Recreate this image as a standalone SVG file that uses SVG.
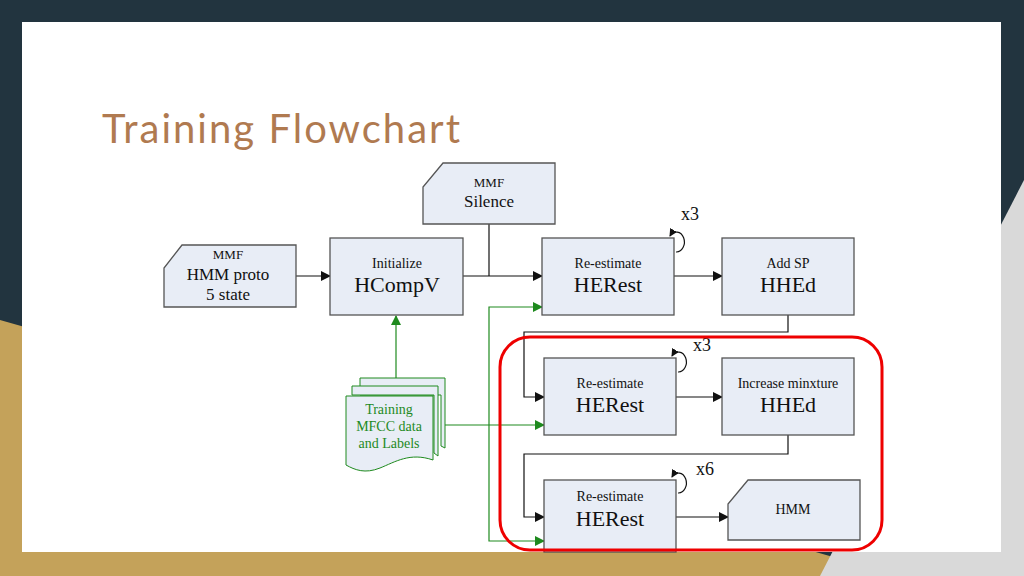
<svg xmlns="http://www.w3.org/2000/svg" width="1024" height="576" viewBox="0 0 1024 576">
<style>
.box{fill:#e8edf6;stroke:#555;stroke-width:1.3}
.t{font-family:"Liberation Serif",serif;fill:#111;text-anchor:middle}
.c{fill:none;stroke:#111;stroke-width:1.2}
.g{fill:none;stroke:#1e8a1e;stroke-width:1.2}
</style>
<defs>
<marker id="a" markerWidth="10" markerHeight="10" refX="9" refY="5" orient="auto" markerUnits="userSpaceOnUse"><path d="M0,0L10,5L0,10z" fill="#111"/></marker>
<marker id="ag" markerWidth="10" markerHeight="10" refX="9" refY="5" orient="auto" markerUnits="userSpaceOnUse"><path d="M0,0L10,5L0,10z" fill="#1e8a1e"/></marker>
<marker id="as" markerWidth="8" markerHeight="8" refX="7" refY="4" orient="auto" markerUnits="userSpaceOnUse"><path d="M0,0L8,4L0,8z" fill="#111"/></marker>
</defs>
<rect width="1024" height="576" fill="#22343f"/>
<path d="M0,320 L900,576 L0,576 Z" fill="#c4a25a"/>
<path d="M1024,180 L1024,576 L820,576 Z" fill="#d9d9d9"/>
<rect x="22" y="22" width="979" height="530" fill="#fff"/>
<text x="102" y="143" font-family="Lato,'Open Sans',sans-serif" font-size="40" fill="#b07a50" textLength="358">Training Flowchart</text>
<g id="connectors">
<path class="c" d="M296,276H330" marker-end="url(#a)"/>
<path class="c" d="M463,276H542" marker-end="url(#a)"/>
<path class="c" d="M489,224V276"/>
<path class="c" d="M674,276H722" marker-end="url(#a)"/>
<path class="c" d="M788,315V332H524V397H544" marker-end="url(#a)"/>
<path class="c" d="M676,397H722" marker-end="url(#a)"/>
<path class="c" d="M788,435V454H524V517H544" marker-end="url(#a)"/>
<path class="c" d="M676,517H728" marker-end="url(#a)"/>
<path class="g" d="M396,378V316" marker-end="url(#ag)"/>
<path class="g" d="M445,425H544" marker-end="url(#ag)"/>
<path class="g" d="M489,425V307H542" marker-end="url(#ag)"/>
<path class="g" d="M489,425V541H544" marker-end="url(#ag)"/>
<path class="c" d="M676,252 A8,10 0 1 0 670,236" marker-end="url(#as)"/>
<path class="c" d="M678,372 A8,10 0 1 0 672,356" marker-end="url(#as)"/>
<path class="c" d="M678,493 A8,10 0 1 0 672,477" marker-end="url(#as)"/>
</g>
<g id="proto"><path class="box" d="M182,245H296V307H164V268Z"/>
<text class="t" x="228" y="259" font-size="13">MMF</text>
<text class="t" x="228" y="280" font-size="17">HMM proto</text>
<text class="t" x="228" y="300" font-size="17">5 state</text></g>
<g id="hcompv"><rect class="box" x="330" y="238" width="133" height="77"/>
<text class="t" x="397" y="268" font-size="14">Initialize</text>
<text class="t" x="397" y="292" font-size="22">HCompV</text></g>
<g id="silence"><path class="box" d="M443,163H555V224H423V187Z"/>
<text class="t" x="489" y="187" font-size="13">MMF</text>
<text class="t" x="489" y="207" font-size="17">Silence</text></g>
<g id="herest1"><rect class="box" x="542" y="238" width="132" height="77"/>
<text class="t" x="608" y="268" font-size="14">Re-estimate</text>
<text class="t" x="608" y="292" font-size="22">HERest</text>
<text class="t" x="690" y="220" font-size="18">x3</text></g>
<g id="addsp"><rect class="box" x="722" y="238" width="132" height="77"/>
<text class="t" x="788" y="268" font-size="14">Add SP</text>
<text class="t" x="788" y="292" font-size="22">HHEd</text></g>
<g id="herest2"><rect class="box" x="544" y="358" width="132" height="77"/>
<text class="t" x="610" y="388" font-size="14">Re-estimate</text>
<text class="t" x="610" y="412" font-size="22">HERest</text>
<text class="t" x="702" y="351" font-size="18">x3</text></g>
<g id="increase"><rect class="box" x="722" y="358" width="132" height="77"/>
<text class="t" x="788" y="388" font-size="14">Increase minxture</text>
<text class="t" x="788" y="412" font-size="22">HHEd</text></g>
<g id="herest3"><rect class="box" x="544" y="480" width="132" height="72"/>
<text class="t" x="610" y="501" font-size="14">Re-estimate</text>
<text class="t" x="610" y="526" font-size="22">HERest</text>
<text class="t" x="705" y="475" font-size="18">x6</text></g>
<g id="hmm"><path class="box" d="M748,480H860V540H728V504Z"/>
<text class="t" x="793" y="514" font-size="14">HMM</text></g>
<g id="training">
<path d="M360,378H445V448L441,446V395H360Z" fill="#e8edf6" stroke="#1e8a1e" stroke-width="1"/>
<path d="M352,386H438V456L434,453V395H352Z" fill="#e8edf6" stroke="#1e8a1e" stroke-width="1"/>
<path d="M346,396H433V460C410,452 395,462 380,468C365,474 355,470 346,465Z" fill="#e8edf6" stroke="#1e8a1e" stroke-width="1"/>
<text class="t" x="389" y="414" font-size="14" style="fill:#1e8a1e">Training</text>
<text class="t" x="389" y="431" font-size="14" style="fill:#1e8a1e">MFCC data</text>
<text class="t" x="389" y="448" font-size="14" style="fill:#1e8a1e">and Labels</text></g>
<rect x="500" y="337" width="382" height="213" rx="30" fill="none" stroke="#e00" stroke-width="3"/>
</svg>
